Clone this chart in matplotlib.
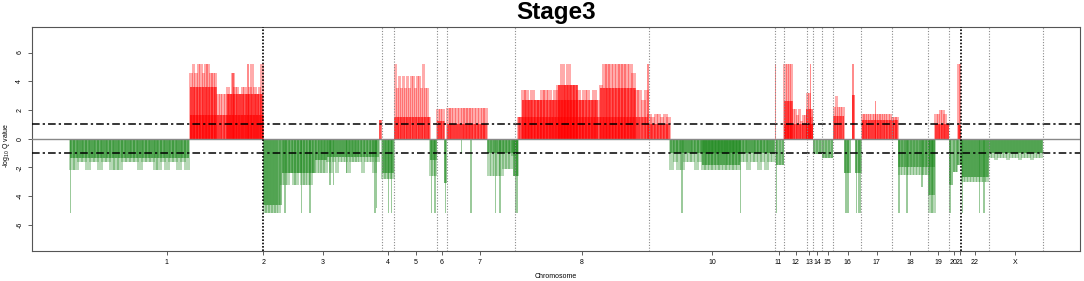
import matplotlib
matplotlib.use('Agg')
import matplotlib.pyplot as plt
import numpy as np

plt.rcParams['font.family'] = ['Liberation Sans', 'DejaVu Sans']
plt.rcParams['mathtext.default'] = 'regular'

# genome axis (arbitrary position units), chromosome label centres
chrom_labels = ['1', '2', '3', '4', '5', '6', '7', '8', '10', '11', '12', '13', '14',
                '15', '16', '17', '18', '19', '20', '21', '22', 'X']
chrom_pos = [166.7, 263.3, 322.7, 387.7, 415.7, 441.7, 480, 581.7, 712.3, 778.5, 795.5,
             809, 817.3, 827.7, 847.7, 876.7, 910, 938.3, 953.5, 960, 975, 1015.3]
boundaries = [263.3, 381.7, 394, 436.7, 447, 514.5, 649, 775, 784, 806.7, 812.7, 821.7,
              833.3, 861.3, 891.7, 927.7, 948.7, 961, 989, 1042.7]
strong_boundaries = [263.3, 961]

# solid cores of each region: (start, end, -log10 Q)
gain_blocks = [(190, 263.3, 1.65), (190, 216.7, 3.6), (226.7, 263.3, 3.1),
               (379, 381.5, 1.3), (394, 430, 1.5), (436.7, 444, 1.25), (447, 487, 1.05),
               (518.3, 648, 1.5), (522, 598, 2.7), (558, 578, 3.75), (600, 636, 3.5),
               (648, 670, 1.0), (784, 812.7, 1.0), (784, 792.7, 2.6), (806, 812.7, 2.1),
               (833.3, 844, 1.55), (851.5, 854.5, 3.05), (861.7, 898.3, 1.3),
               (935, 948.5, 1.0), (957.7, 961, 0.95)]
loss_blocks = [(70, 189.3, -1.37), (263.3, 282, -4.6), (282, 315, -2.4), (315, 327, -1.5),
               (327, 379, -1.25), (381.7, 394, -2.4), (430, 436.7, -1.45), (444, 447, -3.1),
               (487.3, 518.3, -1.0), (513, 518.3, -2.6), (670, 775, -1.0), (702, 740, -1.8),
               (775.5, 784, -1.8), (812.7, 821.7, -1.07), (821.7, 833.3, -1.37),
               (844, 851, -2.4), (855, 861.7, -2.4), (898.3, 935, -1.95), (928.3, 935, -3.95),
               (948.5, 952.5, -3.2), (952.5, 957, -2.3), (957, 961.5, -1.8),
               (961.7, 988.5, -2.65), (988.5, 1042.7, -1.0)]

# individual probes across a region: (start, end, heights)
gain_bars = [
    (190, 263.3, [4.6, 5.2, 4.6, 5.2, 5.2, 4.6, 5.2, 5.2, 4.6, 4.6, 4.6, 3.1, 3.1, 3.1, 3.1,
                  3.6, 3.1, 4.6, 3.6, 3.6, 3.1, 3.6, 3.6, 3.1, 3.6, 5.2, 3.6, 3.1, 3.6, 5.2]),
    (394, 430, [5.2, 3.5, 4.4, 3.5, 4.4, 3.5, 4.4, 3.5, 4.4, 4.4, 3.5, 4.4, 4.4, 3.5, 5.2,
                3.5, 3.5, 1.5]),
    (436.7, 444, [2.1, 2.1, 2.1]),
    (447, 487, [2.15, 2.15, 2.15, 2.15, 2.15, 2.15, 2.15, 2.15, 2.15, 2.15, 2.15, 2.15,
                2.15, 2.15]),
    (518.3, 648, [1.5, 3.4, 3.4, 2.7, 3.4, 2.7, 2.7, 3.4, 3.4, 3.4, 2.7, 3.4, 3.75, 5.2,
                  3.75, 5.2, 3.75, 3.75, 3.4, 2.7, 3.4, 3.4, 2.7, 3.4, 2.7, 3.75, 5.2, 5.2,
                  5.2, 5.2, 5.2, 5.2, 5.2, 5.2, 5.2, 4.6, 3.4, 3.4, 2.7, 3.4]),
    (648, 670, [1.75, 1.5, 1.75, 1.75, 1.5, 1.75, 1.5]),
    (784, 812.7, [5.2, 5.2, 5.2, 5.2, 2.05, 2.05, 1.65, 2.05, 1.2, 1.65, 1.65, 3.2, 3.2, 1.5]),
    (833.3, 844, [2.2, 3.0, 2.2, 2.2, 2.2]),
    (861.7, 898.3, [1.75, 1.75, 1.75, 1.75, 1.75, 1.75, 1.75, 1.75, 1.75, 1.75, 1.75, 1.75,
                    1.75, 1.5, 1.5, 1.5]),
    (935, 948.5, [1.75, 1.75, 2.0, 2.0, 1.75, 1.0]),
    (957.7, 961, [5.2, 5.2]),
]
loss_bars = [
    (70, 189.3, [-2.2, -2.2, -1.6, -1.6, -2.2, -1.6, -1.6, -2.2, -1.6, -1.6, -2.2, -2.2, -2.2,
                 -1.6, -1.6, -1.6, -1.6, -2.2, -1.6, -1.6, -1.6, -2.2, -2.2, -1.6, -2.2, -1.6,
                 -1.6, -2.2, -1.6, -2.2]),
    (263.3, 379, [-5.2, -5.2, -5.2, -5.2, -5.2, -5.2, -3.2, -3.2, -3.2, -2.4, -3.2, -3.2, -2.4,
                  -3.2, -3.2, -3.2, -3.2, -2.4, -2.4, -2.4, -2.4, -2.4, -1.6, -2.4, -1.6, -2.4,
                  -1.6, -1.6, -1.6, -2.4, -1.6, -1.6, -1.6, -1.6, -2.4, -1.6, -1.6, -1.6, -2.4,
                  -1.6]),
    (381.7, 394, [-2.8, -2.8, -2.8, -2.8]),
    (430, 436.7, [-2.6, -2.6, -2.6]),
    (487.3, 518.3, [-2.6, -2.6, -2.6, -2.6, -2.6, -2.1, -2.1, -2.1, -1.2, -2.6]),
    (670, 775, [-2.2, -1.6, -2.2, -2.2, -1.6, -1.6, -1.6, -2.2, -1.6, -2.2, -2.2, -2.2, -2.2,
                -2.2, -2.2, -2.2, -2.2, -2.2, -2.2, -2.2, -1.6, -1.6, -2.2, -1.6, -1.6, -2.2,
                -1.6, -2.2, -1.6, -1.6]),
    (898.3, 935, [-2.5, -2.5, -2.5, -2.5, -2.5, -2.5, -2.5, -2.5, -2.5, -2.5, -5.2, -5.2]),
    (961.7, 988.5, [-3.0, -3.0, -3.0, -3.0, -3.0, -3.0, -3.0, -3.0, -3.0]),
    (988.5, 1042.7, [-1.37, -1.37, -1.45, -1.37, -1.37, -1.37, -1.45, -1.37, -1.37, -1.37,
                     -1.45, -1.37, -1.37, -1.37, -1.45, -1.37, -1.37, -1.37]),
]

# single extreme probes: (position, -log10 Q)
gain_spikes = [(248, 5.2), (233, 4.6), (775.3, 5.2), (810.7, 5.2), (852.5, 5.2),
               (853.8, 5.2), (875.7, 2.65), (648, 5.2)]
loss_spikes = [(70.5, -5.2), (285, -5.2), (301.7, -5.2), (310, -5.2), (330, -3.2),
               (333.3, -3.2), (346.7, -2.4), (375, -5.2), (376.7, -4.8), (388.5, -5.2),
               (391.5, -5.2), (431.5, -5.2), (435, -5.2), (445.5, -5.2), (461.7, -1.0),
               (471, -5.2), (495.7, -5.2), (500, -5.2), (515.5, -5.2), (517, -5.2),
               (682, -5.2), (740.7, -5.2), (776.5, -5.2), (846, -5.2), (848, -5.2),
               (856.5, -5.2), (859, -5.2), (860.5, -5.2), (899, -5.2), (907, -5.2),
               (922, -3.35), (950, -5.2), (962.5, -5.2), (979.5, -5.2), (984, -5.2)]


def draw_calls(ax, blocks, bars, spikes, color):
    for x0, x1, h in blocks:
        ax.bar(x0, h, width=x1 - x0, align='edge', color=color, alpha=0.5, linewidth=0)
        # probe stripes inside the core
        xs = np.arange(x0 + 1.2, x1, 3.0)
        ax.bar(xs, h, width=1.6, color=color, alpha=0.35, linewidth=0)
    for x0, x1, hs in bars:
        w = (x1 - x0) / len(hs)
        xs = [x0 + w * (i + 0.5) for i in range(len(hs))]
        ax.bar(xs, hs, width=w * 1.5, color=color, alpha=0.33, linewidth=0)
    xs = [s[0] for s in spikes]
    hs = [s[1] for s in spikes]
    ax.bar(xs, hs, width=1.2, color=color, alpha=0.45, linewidth=0)


fig = plt.figure(figsize=(10.84, 2.81), dpi=100)
ax = fig.add_axes([31.7 / 1084, 1 - 250.7 / 281, (1080 - 31.7) / 1084, (250.7 - 26.7) / 281])

draw_calls(ax, gain_blocks, gain_bars, gain_spikes, 'red')
draw_calls(ax, loss_blocks, loss_bars, loss_spikes, 'forestgreen')

ax.axhline(0, color='#888888', lw=1.0, zorder=3)
for t in (1, -1):
    ax.axhline(t, color='black', lw=1.1, linestyle=(0, (5, 2, 1.5, 2)), zorder=4)
for b in boundaries:
    if b in strong_boundaries:
        ax.axvline(b, color='black', lw=1.2, linestyle=(0, (1, 1)), zorder=5)
    else:
        ax.axvline(b, color='#8a8a8a', lw=0.8, linestyle=(0, (1, 1.5)), zorder=5)

ax.set_xlim(31.7, 1080)
ax.set_ylim(-7.8, 7.8)
ax.set_xticks(chrom_pos, chrom_labels)
yt = [-6, -4, -2, 0, 2, 4, 6]
ax.set_yticks(yt, [str(v) for v in yt], rotation=90, va='center')
ax.tick_params(axis='x', length=3, width=0.6, labelsize=5, pad=3, color='#444444')
ax.tick_params(axis='y', length=3, width=0.6, labelsize=5, pad=3, color='#444444')
for s in ax.spines.values():
    s.set_color('#555555')
    s.set_linewidth(0.8)

fig.text(556 / 1084, 1 - 12 / 281, 'Stage3', fontsize=17.5, fontweight='bold',
         ha='center', va='center')
fig.text(556 / 1084, 1 - 276 / 281, 'Chromosome', fontsize=5, ha='center', va='center')
fig.text(6.7 / 1084, 1 - 145 / 281, '-log$_{10}$ Q value', fontsize=5, rotation=90,
         ha='center', va='center')

fig.savefig('out.png', dpi=100)
